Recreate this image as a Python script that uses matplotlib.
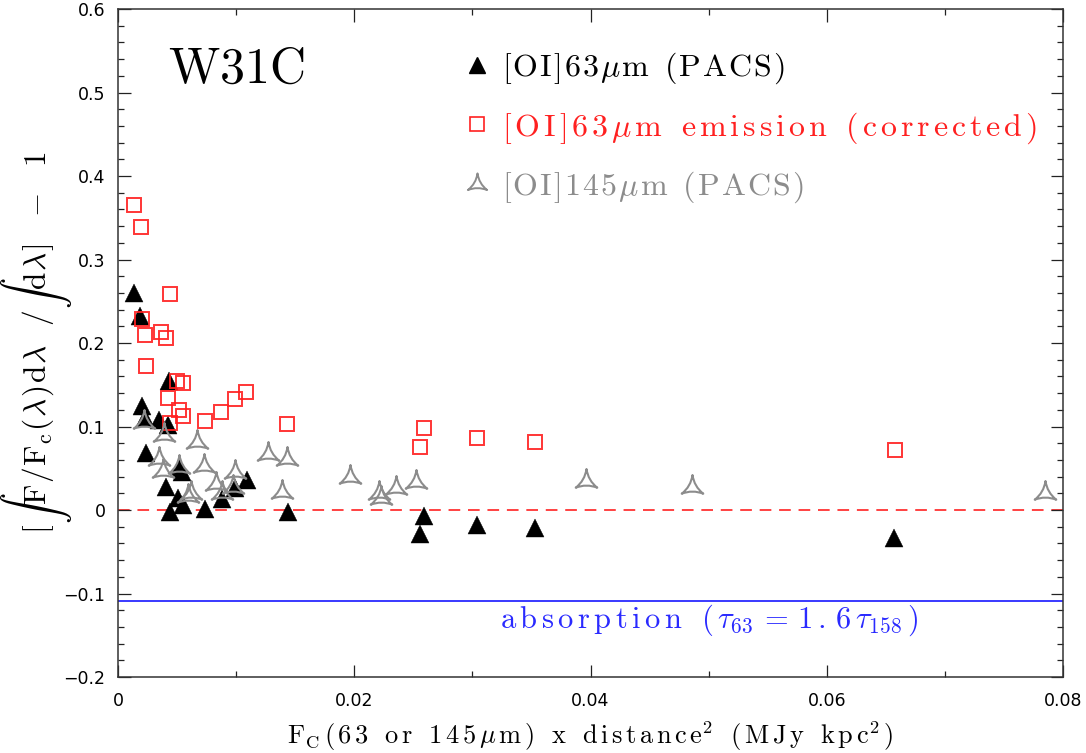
import matplotlib
matplotlib.use("Agg")
import matplotlib.pyplot as plt
from matplotlib.path import Path
from matplotlib.lines import Line2D
import numpy as np

plt.rcParams['mathtext.fontset'] = 'cm'
plt.rcParams['axes.unicode_minus'] = True

# ---- data ----
oi63_x = [0.00135, 0.0019, 0.0043, 0.0020, 0.0023, 0.0035, 0.00426, 0.0024,
          0.0052, 0.0054, 0.0041, 0.0051, 0.0055, 0.0044, 0.0074, 0.0088,
          0.0099, 0.0109, 0.0144, 0.0259, 0.0256, 0.0304, 0.0353, 0.0657]
oi63_y = [0.260, 0.232, 0.154, 0.124, 0.110, 0.108, 0.102, 0.068,
          0.050, 0.046, 0.028, 0.014, 0.006, -0.002, 0.001, 0.013,
          0.026, 0.036, -0.002, -0.007, -0.029, -0.018, -0.022, -0.034]

corr_x = [0.00138, 0.00195, 0.0044, 0.0020, 0.0023, 0.0036, 0.0041, 0.0024,
          0.0050, 0.0055, 0.0042, 0.0052, 0.0055, 0.0044, 0.0074, 0.0087,
          0.0099, 0.0108, 0.0143, 0.0259, 0.0256, 0.0304, 0.0353, 0.0658]
corr_y = [0.365, 0.339, 0.259, 0.229, 0.210, 0.213, 0.206, 0.173,
          0.154, 0.152, 0.134, 0.120, 0.113, 0.104, 0.107, 0.117,
          0.133, 0.141, 0.103, 0.098, 0.076, 0.086, 0.082, 0.072]

oi145_x = [0.0022, 0.0039, 0.0067, 0.0035, 0.0038, 0.0052, 0.0073, 0.0099,
           0.0127, 0.0143, 0.0083, 0.0062, 0.0088, 0.0097, 0.0139, 0.0059,
           0.0196, 0.0221, 0.0223, 0.0235, 0.0252, 0.0396, 0.0486, 0.0785]
oi145_y = [0.106, 0.090, 0.081, 0.061, 0.047, 0.051, 0.053, 0.046,
           0.067, 0.061, 0.031, 0.020, 0.020, 0.027, 0.021, 0.017,
           0.039, 0.020, 0.014, 0.026, 0.034, 0.035, 0.028, 0.020]

absorption_level = -0.1086

x_ticks = [0, 0.02, 0.04, 0.06, 0.08]
x_ticklabels = ["0", "0.02", "0.04", "0.06", "0.08"]
y_ticks = [-0.2, -0.1, 0, 0.1, 0.2, 0.3, 0.4, 0.5, 0.6]
y_ticklabels = ["\u22120.2", "\u22120.1", "0", "0.1", "0.2", "0.3", "0.4", "0.5", "0.6"]

legend_labels = ["[OI]63μm (PACS)",
                 "[OI]63μm emission (corrected)",
                 "[OI]145μm (PACS)"]
xlabel_src = "F_{C}(63 or 145μm) x distance^{2} (MJy kpc^{2})"
absorption_src = "absorption (τ_{63}=1.6τ_{158})"
title_src = "W31C"
ylabel_parts = [r'[', r'\int', r'\mathrm{F}', r'/', r'\mathrm{F}_{\mathrm{c}}', r'(',
                r'\lambda', r')', r'\mathrm{d}', r'\lambda', r'\ \ /', r'\int',
                r'\mathrm{d}', r'\lambda', r']', r'\ \ -\ \ ', r'1']

GREEK = {'μ': r'\mu', 'τ': r'\tau', 'λ': r'\lambda'}

# ---- spaced (Hershey-like) text helper ----
def tokenize(s):
    toks = []
    i = 0
    while i < len(s):
        ch = s[i]
        if ch in GREEK:
            toks.append(GREEK[ch])
            i += 1
        elif ch in '_^':
            if s[i + 1] == '{':
                j = s.index('}', i)
                inner = s[i + 2:j]
                i = j + 1
            else:
                inner = s[i + 1]
                i += 2
            toks[-1] = toks[-1] + ch + '{' + r'\mathrm{%s}' % inner + '}'
        elif ch == ' ':
            toks.append(' ')
            i += 1
        else:
            toks.append(r'\mathrm{%s}' % ch)
            i += 1
    return toks

def join_tokens(toks, gap, space=0.42):
    out = []
    for k, t in enumerate(toks):
        if t == ' ':
            out.append(r'\hspace{%.3f}' % space)
        else:
            out.append(t)
        if k < len(toks) - 1:
            out.append(r'\hspace{%.3f}' % gap)
    return '$' + ''.join(out) + '$'

def spaced(s, gap):
    return join_tokens(tokenize(s), gap)

fig = plt.figure(figsize=(10.86, 7.53), dpi=100)
renderer = fig.canvas.get_renderer()

def fit_gap(s, size, target_px):
    def width(g):
        t = fig.text(0, 0, spaced(s, g), fontsize=size)
        w = t.get_window_extent(renderer).width
        t.remove()
        return w
    w0, w1 = width(0.0), width(0.2)
    g = 0.2 * (target_px - w0) / (w1 - w0)
    return max(g, 0.0)

GRAY = '#8c8c8c'
RED = '#ff2020'
BLUE = '#2a2aff'

# concave three-pointed marker
ang = np.deg2rad([90, 210, 330])
tips = np.column_stack([np.cos(ang), np.sin(ang)])
ctrl = [0.3 * 0.5 * (tips[k] + tips[(k + 1) % 3]) for k in range(3)]
verts = [tips[0], ctrl[0], tips[1], ctrl[1], tips[2], ctrl[2], tips[0], tips[0]]
codes = [Path.MOVETO, Path.CURVE3, Path.CURVE3, Path.CURVE3, Path.CURVE3,
         Path.CURVE3, Path.CURVE3, Path.CLOSEPOLY]
star3 = Path(verts, codes)

ax = fig.add_axes([0.1087, 0.1009, 0.8701, 0.8871])

ax.axhline(0, color=RED, lw=1.4, ls=(0, (6, 4)), alpha=0.85, zorder=1)
ax.axhline(absorption_level, color=BLUE, lw=1.3, zorder=1)

ax.plot(oi63_x, oi63_y, ls='none', marker='^', ms=12.5, mfc='black',
        mec='black', mew=0.3, zorder=3)
ax.plot(corr_x, corr_y, ls='none', marker='s', ms=9.5, mfc='none',
        mec=RED, mew=1.4, alpha=0.9, zorder=4)
ax.plot(oi145_x, oi145_y, ls='none', marker=star3, ms=18, mfc='none',
        mec=GRAY, mew=1.5, zorder=5)

ax.set_xlim(0, 0.08)
ax.set_ylim(-0.2, 0.6)
ax.set_xticks(x_ticks)
ax.set_xticklabels(x_ticklabels)
ax.set_yticks(y_ticks)
ax.set_yticklabels(y_ticklabels)
ax.set_xticks(np.arange(0, 0.0801, 0.01), minor=True)
ax.set_yticks(np.arange(-0.2, 0.601, 0.02), minor=True)
ax.tick_params(which='both', direction='in', top=True, right=True,
               labelsize=12.5, width=0.9, color='#222222')
ax.tick_params(which='major', length=9)
ax.tick_params(which='minor', length=4.5)
ax.tick_params(axis='y', pad=9)
ax.tick_params(axis='x', pad=11)
for s in ax.spines.values():
    s.set_linewidth(1.1)
    s.set_color('#333333')

xl_size = 19
ax.set_xlabel(spaced(xlabel_src, fit_gap(xlabel_src, xl_size, 606)), fontsize=xl_size)
ax.xaxis.set_label_coords(0.5, -0.063)
ax.set_ylabel(join_tokens(ylabel_parts, 0.06), fontsize=22.5)
ax.yaxis.set_label_coords(-0.047, 0.50)

ax.text(0.053, 0.889, spaced(title_src, fit_gap(title_src, 36, 137)),
        transform=ax.transAxes, fontsize=36, va='baseline', ha='left')
ab_size = 22
ax.text(0.404, 0.073, spaced(absorption_src, fit_gap(absorption_src, ab_size, 418)),
        transform=ax.transAxes, fontsize=ab_size, color=BLUE, va='baseline', ha='left')

leg_size = 23
leg_targets = [283, 535, 302]
labels = [spaced(s, fit_gap(s, leg_size, w)) for s, w in zip(legend_labels, leg_targets)]
handles = [
    Line2D([], [], ls='none', marker='^', ms=12, mfc='black', mec='black'),
    Line2D([], [], ls='none', marker='s', ms=9.5, mfc='none', mec=RED, mew=1.2),
    Line2D([], [], ls='none', marker=star3, ms=16, mfc='none', mec=GRAY, mew=1.4),
]
leg = ax.legend(handles, labels, loc='upper left', bbox_to_anchor=(0.366, 0.9375),
                frameon=False, fontsize=leg_size, handlelength=0.8, handletextpad=0.4,
                labelspacing=0.75, borderpad=0, borderaxespad=0)
for t, col in zip(leg.get_texts(), ['black', RED, GRAY]):
    t.set_color(col)

fig.savefig('out.png', dpi=100)
